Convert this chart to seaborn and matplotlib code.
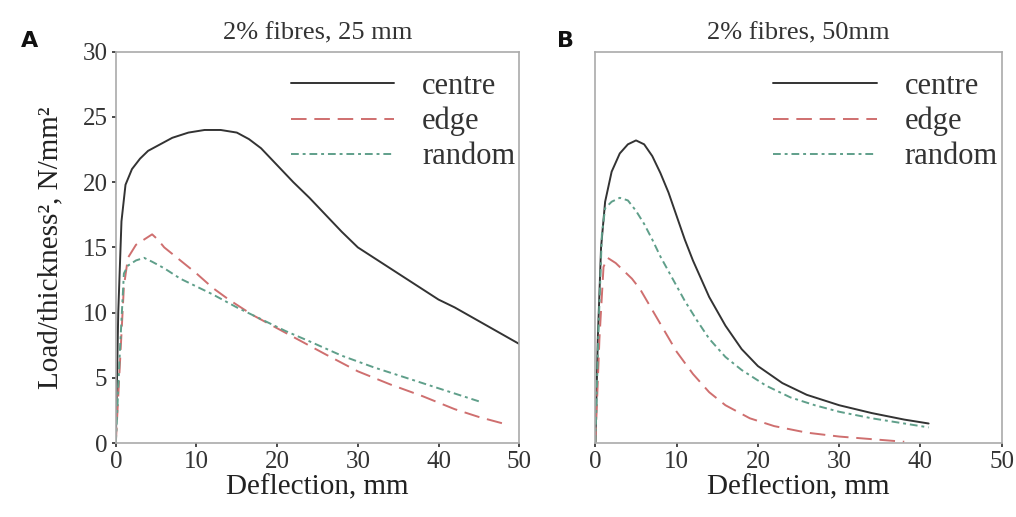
import numpy as np
import pandas as pd
import seaborn as sns
import matplotlib.pyplot as plt

sns.set_theme(style="white")
plt.rcParams['font.family'] = ['Liberation Serif', 'DejaVu Serif']

# panel A: 2% fibres, 25 mm
a_centre_x = [0, 0.3, 0.7, 1.2, 2, 3, 4, 5.5, 7, 9, 11, 13, 15, 16.5, 18, 20, 22, 24, 26, 28, 30, 32, 34, 36, 38, 40, 42, 44, 46, 48, 50]
a_centre_y = [0, 10, 17, 19.8, 21, 21.8, 22.4, 22.9, 23.4, 23.8, 24.0, 24.0, 23.8, 23.3, 22.6, 21.3, 20.0, 18.8, 17.5, 16.2, 15.0, 14.2, 13.4, 12.6, 11.8, 11.0, 10.4, 9.7, 9.0, 8.3, 7.6]
a_edge_x = [0, 0.5, 1, 1.5, 2.5, 3.5, 4.5, 5.2, 6, 8, 10, 12, 14, 17, 20, 23, 26, 30, 34, 38, 42, 45, 48]
a_edge_y = [0, 6, 12, 14.2, 15.2, 15.6, 16.0, 15.6, 15.0, 14.0, 13.0, 11.9, 11.0, 9.8, 8.8, 7.8, 6.8, 5.5, 4.5, 3.6, 2.6, 2.0, 1.5]
a_random_x = [0, 0.5, 1, 1.5, 2.5, 3.5, 4.5, 6, 8, 10, 12, 15, 18, 21, 24, 28, 32, 36, 40, 43, 45]
a_random_y = [0, 7, 13.0, 13.6, 14.0, 14.2, 13.9, 13.4, 12.6, 12.0, 11.4, 10.4, 9.5, 8.6, 7.8, 6.7, 5.8, 5.0, 4.2, 3.6, 3.2]

# panel B: 2% fibres, 50mm
b_centre_x = [0, 0.3, 0.7, 1.2, 2, 3, 4, 5, 6, 7, 8, 9, 10, 11, 12, 14, 16, 18, 20, 23, 26, 30, 34, 38, 41]
b_centre_y = [0, 8, 15, 18.5, 20.8, 22.2, 22.9, 23.2, 22.9, 22.0, 20.7, 19.2, 17.4, 15.6, 14.0, 11.2, 9.0, 7.2, 5.9, 4.6, 3.7, 2.9, 2.3, 1.8, 1.5]
b_edge_x = [0, 0.5, 1, 1.5, 2.5, 3.5, 4.5, 5.5, 7, 8.5, 10, 12, 14, 16, 19, 22, 26, 30, 34, 38]
b_edge_y = [0, 8, 13.5, 14.2, 13.8, 13.2, 12.6, 11.8, 10.2, 8.6, 7.0, 5.3, 3.9, 2.9, 1.9, 1.3, 0.8, 0.5, 0.3, 0.1]
b_random_x = [0, 0.4, 0.8, 1.2, 2, 3, 4, 5, 6, 7, 8, 9.5, 11, 12.5, 14, 16, 18, 21, 24, 27, 30, 34, 38, 41]
b_random_y = [0, 9, 16, 18.0, 18.5, 18.8, 18.6, 17.8, 16.8, 15.6, 14.3, 12.6, 10.9, 9.4, 8.0, 6.6, 5.6, 4.4, 3.5, 2.9, 2.4, 1.9, 1.5, 1.2]

series_names = ["centre", "edge", "random"]
colours = {"centre": "#333333", "edge": "#cf6f6f", "random": "#5f9f8a"}
dash_styles = {"centre": "", "edge": (8, 4), "random": (4, 2, 1.5, 2)}

fig = plt.figure(figsize=(10.16, 5.17), dpi=100)
axA = fig.add_axes([0.114, 0.143, 0.397, 0.757])
axB = fig.add_axes([0.586, 0.143, 0.400, 0.757])

panels = [
    (axA, "2% fibres, 25 mm", [(a_centre_x, a_centre_y), (a_edge_x, a_edge_y), (a_random_x, a_random_y)]),
    (axB, "2% fibres, 50mm", [(b_centre_x, b_centre_y), (b_edge_x, b_edge_y), (b_random_x, b_random_y)]),
]

for ax, title, data in panels:
    for name, (xs, ys) in zip(series_names, data):
        df = pd.DataFrame({"x": xs, "y": ys})
        sns.lineplot(data=df, x="x", y="y", ax=ax, color=colours[name], lw=1.4,
                     label=name, sort=False)
    for ln, name in zip(ax.get_lines(), series_names):
        if dash_styles[name]:
            ln.set_dashes(dash_styles[name])
    ax.set_xlim(0, 50)
    ax.set_ylim(0, 30)
    ax.set_xticks([0, 10, 20, 30, 40, 50])
    ax.set_yticks([0, 5, 10, 15, 20, 25, 30])
    ax.set_title(title, fontsize=19, color="#333333", pad=9)
    ax.set_xlabel("Deflection, mm", fontsize=21, color="#222222", labelpad=1)
    ax.tick_params(axis="both", labelsize=18, colors="#333333", length=3, direction="out",
                   bottom=True, left=True, pad=3)
    for sp in ax.spines.values():
        sp.set_color("#aaaaaa")
        sp.set_linewidth(1.2)
    leg = ax.legend(loc="upper right", bbox_to_anchor=(1.02, 0.98), frameon=False, fontsize=22,
                    handlelength=3.4, handletextpad=0.9, labelspacing=0.2, borderaxespad=0)
    for t in leg.get_texts():
        t.set_color("#333333")

axA.set_ylabel("Load/thickness², N/mm²", fontsize=21, color="#222222", labelpad=14)
axB.set_ylabel("")
axB.set_yticklabels([])
axB.tick_params(axis="y", length=0)

fig.text(0.021, 0.91, "A", fontsize=16, fontweight="bold", family="DejaVu Sans", color="#111111")
fig.text(0.548, 0.91, "B", fontsize=16, fontweight="bold", family="DejaVu Sans", color="#111111")

fig.savefig("out.png", dpi=100)
